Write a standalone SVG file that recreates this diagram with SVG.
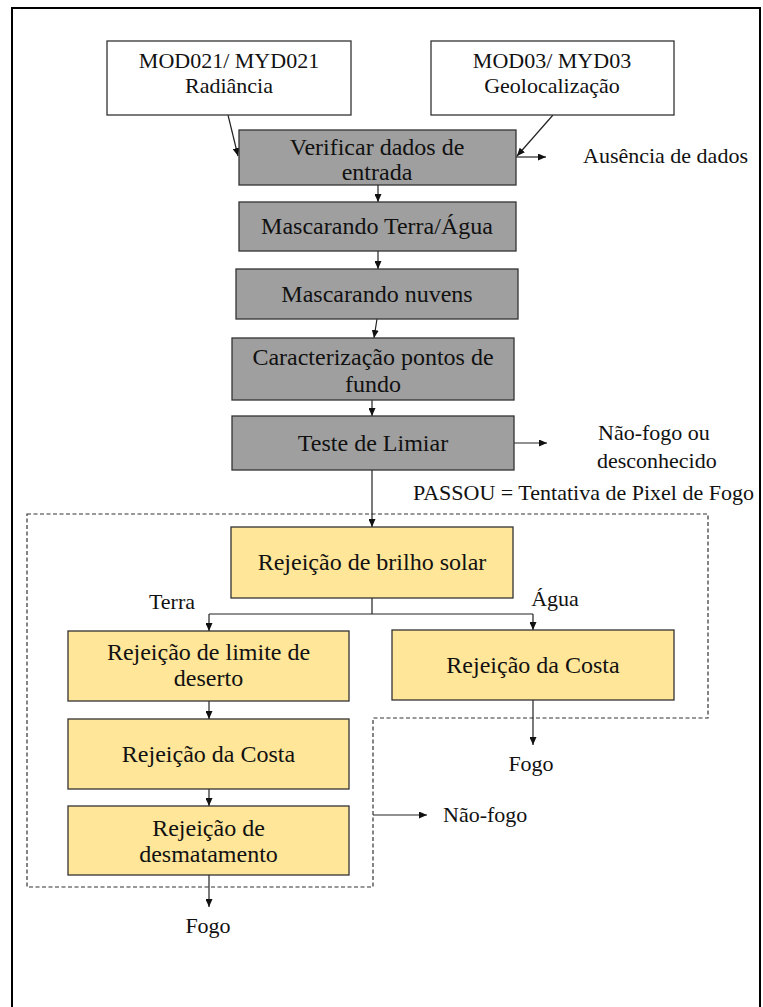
<svg xmlns="http://www.w3.org/2000/svg" width="763" height="1007" viewBox="0 0 763 1007" font-family="'Liberation Serif', 'DejaVu Serif', serif">
<style>
  text { font-family: 'Liberation Serif', 'DejaVu Serif', serif; fill: #111; }
  .bt { font-size: 24px; text-anchor: middle; }
  .mt { font-size: 22px; text-anchor: middle; }
  .lb { font-size: 22px; }
  .lc { font-size: 22px; text-anchor: middle; }
  .white { fill: #ffffff; stroke: #333; stroke-width: 1.3; }
  .gray { fill: #9f9f9f; stroke: #333; stroke-width: 1.3; }
  .yel { fill: #ffe699; stroke: #333; stroke-width: 1.3; }
  .c { fill: none; stroke: #222; stroke-width: 1.2; }
  .ca { fill: none; stroke: #222; stroke-width: 1.2; marker-end: url(#ah); }
  .dash { fill: none; stroke: #333; stroke-width: 1.2; stroke-dasharray: 4 2.5; }
</style>
<defs>
  <marker id="ah" markerUnits="userSpaceOnUse" markerWidth="8" markerHeight="7" refX="8" refY="3.5" orient="auto">
    <path d="M0,0 L8,3.5 L0,7 z" fill="#111"/>
  </marker>
</defs>
<rect x="0" y="0" width="763" height="1007" fill="#ffffff"/>
<rect id="frame" x="12" y="8" width="748" height="1012" fill="none" stroke="#000" stroke-width="2"/>

<g id="connectors">
  <path class="dash" d="M27,514 H708 V718 H373 V887 H27 Z"/>
  <line class="ca" x1="228" y1="115" x2="238" y2="156"/>
  <line class="ca" x1="553" y1="115" x2="517" y2="156"/>
  <line class="ca" x1="516" y1="157" x2="546" y2="157"/>
  <line class="ca" x1="378" y1="185" x2="378" y2="202"/>
  <line class="ca" x1="378" y1="251" x2="378" y2="269"/>
  <line class="ca" x1="377" y1="319" x2="374" y2="338"/>
  <line class="ca" x1="372" y1="400" x2="372" y2="416"/>
  <line class="ca" x1="514" y1="443" x2="547" y2="443"/>
  <line class="ca" x1="372" y1="470" x2="372" y2="527"/>
  <path class="c" d="M372,598 V614 M209,614 H533"/>
  <line class="ca" x1="209" y1="614" x2="209" y2="631"/>
  <line class="ca" x1="533" y1="614" x2="533" y2="630"/>
  <line class="ca" x1="209" y1="701" x2="209" y2="719"/>
  <line class="ca" x1="209" y1="789" x2="209" y2="806"/>
  <line class="ca" x1="533" y1="700" x2="533" y2="745"/>
  <line class="ca" x1="209" y1="875" x2="209" y2="907"/>
  <line class="ca" x1="373" y1="815" x2="427" y2="815"/>
</g>

<g id="mod021">
  <rect class="white" x="107" y="41" width="244" height="74"/>
  <text class="mt" x="229" y="68">MOD021/ MYD021</text>
  <text class="mt" x="229" y="93">Radiância</text>
</g>
<g id="mod03">
  <rect class="white" x="431" y="41" width="243" height="74"/>
  <text class="mt" x="552" y="68">MOD03/ MYD03</text>
  <text class="mt" x="552" y="93">Geolocalização</text>
</g>
<g id="verificar">
  <rect class="gray" x="239" y="130" width="277" height="55"/>
  <text class="bt" x="377" y="155">Verificar dados de</text>
  <text class="bt" x="377" y="180">entrada</text>
</g>
<g id="ausencia">
  <text class="lb" x="583" y="163">Ausência de dados</text>
</g>
<g id="mascTerra">
  <rect class="gray" x="239" y="202" width="277" height="49"/>
  <text class="bt" x="377" y="234">Mascarando Terra/Água</text>
</g>
<g id="mascNuvens">
  <rect class="gray" x="236" y="269" width="282" height="50"/>
  <text class="bt" x="377" y="302">Mascarando nuvens</text>
</g>
<g id="caract">
  <rect class="gray" x="232" y="338" width="282" height="62"/>
  <text class="bt" x="373" y="365">Caracterização pontos de</text>
  <text class="bt" x="373" y="392">fundo</text>
</g>
<g id="teste">
  <rect class="gray" x="232" y="416" width="282" height="54"/>
  <text class="bt" x="373" y="451">Teste de Limiar</text>
</g>
<g id="naoFogoDesc">
  <text class="lb" x="598" y="440">Não-fogo ou</text>
  <text class="lb" x="597" y="468">desconhecido</text>
</g>
<g id="passou">
  <text class="lb" x="413" y="500">PASSOU = Tentativa de Pixel de Fogo</text>
</g>
<g id="brilho">
  <rect class="yel" x="231" y="527" width="282" height="71"/>
  <text class="bt" x="372" y="570">Rejeição de brilho solar</text>
</g>
<g id="terra">
  <text class="lc" x="172" y="609">Terra</text>
</g>
<g id="agua">
  <text class="lc" x="555" y="606">Água</text>
</g>
<g id="deserto">
  <rect class="yel" x="68" y="631" width="281" height="70"/>
  <text class="bt" x="208.5" y="660">Rejeição de limite de</text>
  <text class="bt" x="208.5" y="686">deserto</text>
</g>
<g id="costaAgua">
  <rect class="yel" x="392" y="630" width="282" height="70"/>
  <text class="bt" x="533" y="673">Rejeição da Costa</text>
</g>
<g id="fogoAgua">
  <text class="lc" x="531" y="771">Fogo</text>
</g>
<g id="costaTerra">
  <rect class="yel" x="68" y="719" width="281" height="70"/>
  <text class="bt" x="208.5" y="762">Rejeição da Costa</text>
</g>
<g id="desmat">
  <rect class="yel" x="68" y="806" width="281" height="69"/>
  <text class="bt" x="208.5" y="836">Rejeição de</text>
  <text class="bt" x="208.5" y="862">desmatamento</text>
</g>
<g id="naoFogo">
  <text class="lb" x="443" y="822">Não-fogo</text>
</g>
<g id="fogoTerra">
  <text class="lc" x="208" y="933">Fogo</text>
</g>
</svg>
